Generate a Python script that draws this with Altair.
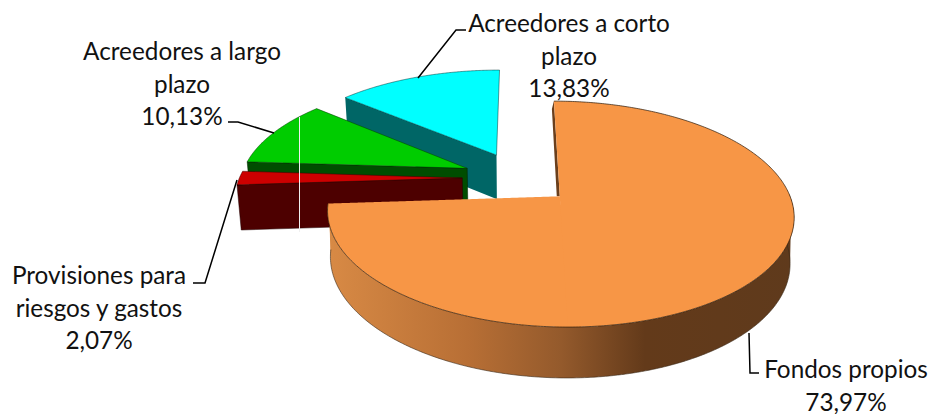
import math
import altair as alt
import pandas as pd

# ---- data
names = ["Fondos propios", "Provisiones para\nriesgos y gastos", "Acreedores a largo\nplazo", "Acreedores a corto\nplazo"]
values = [73.97, 2.07, 10.13, 13.83]
label_x = [846, 99, 182, 569]
label_y = [371, 277, 53, 25]

leader_orange = [(749, 333), (750, 373), (759, 373)]
leader_red = [(237, 180), (205, 283), (193, 283)]
leader_green = [(274, 133), (238, 122), (228, 122)]
leader_cyan = [(418, 78), (456, 30), (466, 30)]

# ---- layout of the tilted pie
CX, CY, A, B, K, EXPLODE = 520, 178, 231, 104.5, 0.153, 0.25
RX_SCALE = [0.971, 0.965, 0.98, 0.985]
SHIFT_X = [-3.5, 0, 0, 0]

FONT = "Lato"
FONT_SIZE = 24.3


def project(u, v, dx=0):
    s = 1 / (1 + K * v)
    return CX + dx + A * u * s, CY - B * v * s


def drop(p):
    x, y = p
    return CX + (x - CX) * 0.985, y + 44 + (y - 155) * 0.04


# angular spans (degrees clockwise from top) derived from the values
spans = []
acc = 0.0
for v in values:
    a0 = acc * 3.6
    acc += v
    spans.append((a0, acc * 3.6))


def centre(i):
    mid = math.radians(sum(spans[i]) / 2)
    return EXPLODE * math.sin(mid), EXPLODE * math.cos(mid)


def arc(i, t0, t1, n=120):
    uc, vc = centre(i)
    out = []
    for j in range(n + 1):
        t = math.radians(t0 + (t1 - t0) * j / n)
        out.append(project(uc + RX_SCALE[i] * math.sin(t), vc + math.cos(t), SHIFT_X[i]))
    return out


def apex(i):
    return project(*centre(i), SHIFT_X[i])


def area_df(points):
    """Vertical sections of a polygon, for an area mark."""
    xs = sorted({round(p[0], 3) for p in points})
    rows = []
    n = len(points)
    for x in xs:
        hits = []
        for j in range(n):
            (x1, y1), (x2, y2) = points[j], points[(j + 1) % n]
            x1r, x2r = round(x1, 3), round(x2, 3)
            if x1r == x2r:
                if x1r == x:
                    hits += [y1, y2]
            elif min(x1r, x2r) <= x <= max(x1r, x2r):
                hits.append(y1 + (y2 - y1) * (x - x1r) / (x2r - x1r))
        if hits:
            rows.append({"x": x, "y": min(hits), "y2": max(hits)})
    return pd.DataFrame(rows)


X = alt.X("x:Q", scale=alt.Scale(domain=[8, 928], nice=False, zero=False), axis=None)
Y = alt.Y("y:Q", scale=alt.Scale(domain=[414, 8], nice=False, zero=False), axis=None)


def poly(points, color, stroke=None, width=0.6):
    kw = {"color": color, "opacity": 1, "interpolate": "linear"}
    if stroke:
        kw.update(stroke=stroke, strokeWidth=width)
    return alt.Chart(area_df(points)).mark_area(**kw).encode(x=X, y=Y, y2="y2:Q")


def polyline(points, color="#000000", width=1.5):
    df = pd.DataFrame([{"x": p[0], "y": p[1], "i": i} for i, p in enumerate(points)])
    return (
        alt.Chart(df)
        .mark_line(color=color, strokeWidth=width, interpolate="linear")
        .encode(x=X, y=Y, order="i:Q")
    )


def wall(p0, p1):
    return [p0, p1, drop(p1), drop(p0)]


layers = []

# cyan slice
cy_arc = arc(3, *spans[3])
cy_ap = apex(3)
layers.append(poly(wall(cy_arc[0], cy_ap), "#006666"))
layers.append(poly([cy_ap] + cy_arc, "#00FFFF", "#003333", 0.5))

# green slice
gr_arc = arc(2, *spans[2])
gr_ap = apex(2)
layers.append(poly(wall(gr_arc[0], gr_ap), "#004D00", "#002000", 0.5))
layers.append(poly([gr_ap] + gr_arc, "#00CC00", "#003300", 0.5))

# red slice
re_arc = arc(1, *spans[1])
re_ap = apex(1)
layers.append(poly(wall(re_arc[0], re_ap), "#4D0000", "#200000", 0.5))
layers.append(poly([re_ap] + re_arc, "#CC0000", "#300000", 0.5))

# scan artefact running through the back slices
layers.append(
    alt.Chart(pd.DataFrame({"x": [299.5], "y": [117], "y2": [232]}))
    .mark_rule(color="#F0F0F0", strokeWidth=1)
    .encode(x=X, y=Y, y2="y2:Q")
)

# orange slice
or_ap = apex(0)
or_top = arc(0, 0, 0, 1)[0]
layers.append(
    poly(
        [or_top, or_ap, (or_ap[0] - 3, or_ap[1]), (or_top[0] - 2, or_top[1] + 8)],
        "#6B3F1C",
    )
)
upper = arc(0, 88, spans[0][1], 200)
lower = [drop(p) for p in upper]
front_grad = alt.LinearGradient(
    gradient="linear",
    stops=[
        alt.GradientStop(offset=0, color="#D88A45"),
        alt.GradientStop(offset=0.3, color="#B86F35"),
        alt.GradientStop(offset=0.5, color="#945A2C"),
        alt.GradientStop(offset=0.68, color="#633A1A"),
        alt.GradientStop(offset=1, color="#5F3A1C"),
    ],
    x1=0,
    x2=1,
    y1=0,
    y2=0,
)
layers.append(poly(upper + lower[::-1], front_grad))
layers.append(polyline(lower, "#3A2A1A", 0.6))

# top face: two pieces, split under the apex so each has a single vertical section
t_split = 172
layers.append(poly([or_ap] + arc(0, t_split + 6, spans[0][1], 160), "#F79646"))
layers.append(poly([or_ap] + arc(0, 0, t_split + 8, 200), "#F79646"))
layers.append(polyline(arc(0, 0, spans[0][1], 400), "#2A1A0A", 0.7))

# leader lines
for leader in (leader_orange, leader_red, leader_green, leader_cyan):
    layers.append(polyline(leader, "#000000", 1.5))

# labels
label_df = pd.DataFrame(
    {
        "x": label_x,
        "y": label_y,
        "label": [n + "\n" + f"{v:.2f}".replace(".", ",") + "%" for n, v in zip(names, values)],
    }
)
layers.append(
    alt.Chart(label_df)
    .mark_text(
        font=FONT,
        fontSize=FONT_SIZE,
        color="#111111",
        align="center",
        baseline="middle",
        lineBreak="\n",
        lineHeight=32.5,
    )
    .encode(x=X, y=Y, text="label:N")
)

chart = (
    alt.layer(*layers)
    .properties(
        width=920,
        height=406,
        padding=0,
        background="#FFFFFF",
        autosize=alt.AutoSizeParams(type="none"),
    )
    .configure_view(stroke=None)
)
chart.save("out.html", embed_options={"renderer": "svg", "actions": False})
